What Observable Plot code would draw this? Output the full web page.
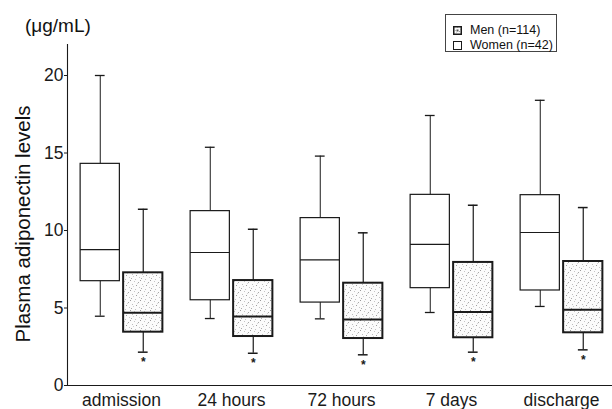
<!DOCTYPE html>
<html><head><meta charset="utf-8">
<script src="https://cdn.jsdelivr.net/npm/d3@7"></script>
<script src="https://cdn.jsdelivr.net/npm/@observablehq/plot@0.6"></script>
<style>
html,body{margin:0;padding:0;background:#fff;overflow:hidden;width:612px;height:409px;}
#wrap{position:relative;width:612px;height:409px;overflow:hidden;font-family:"Liberation Sans",Arial,sans-serif;color:#111;}
#wrap svg.plot{position:absolute;left:0;top:0;max-width:none !important;width:640px;height:409px;}
#units{position:absolute;left:25px;top:15px;font-size:19px;line-height:22px;}
#ylab{position:absolute;left:23px;top:224px;font-size:20.5px;line-height:22px;white-space:nowrap;transform:translate(-50%,-50%) rotate(-90deg);}
#legend{position:absolute;left:445px;top:14px;width:112px;height:38px;border:1px solid #444;font-size:12.5px;box-sizing:border-box;padding:8px 0 0 7px;line-height:15px;background:#fff;}
#legend .row{display:flex;align-items:center;white-space:nowrap;}
#legend svg{margin-right:8px;}
</style>
</head><body>
<div id="wrap">
  <div id="units">(μg/mL)</div>
  <div id="ylab">Plasma adiponectin levels</div>
</div>
<script>
// ---- data ----
const categories = ["admission", "24 hours", "72 hours", "7 days", "discharge"];
const seriesNames = ["Men (n=114)", "Women (n=42)"];

// white boxes (first in each pair)
const womenLow    = [4.47, 4.32, 4.30, 4.71, 5.10];
const womenQ1     = [6.73, 5.50, 5.35, 6.28, 6.13];
const womenMedian = [8.77, 8.58, 8.10, 9.10, 9.87];
const womenQ3     = [14.3, 11.25, 10.8, 12.3, 12.28];
const womenHigh   = [20.0, 15.37, 14.8, 17.42, 18.4];

// stippled boxes (second in each pair)
const menLow    = [2.15, 2.08, 1.98, 2.15, 2.30];
const menQ1     = [3.44, 3.16, 3.03, 3.08, 3.40];
const menMedian = [4.69, 4.45, 4.26, 4.75, 4.88];
const menQ3     = [7.27, 6.77, 6.60, 7.94, 8.00];
const menHigh   = [11.37, 10.08, 9.85, 11.63, 11.48];
const menMark   = ["*", "*", "*", "*", "*"];

const yTicks = [0, 5, 10, 15, 20];

// ---- build tables ----
const women = categories.map((c, i) => ({cat: c, low: womenLow[i], q1: womenQ1[i], med: womenMedian[i], q3: womenQ3[i], high: womenHigh[i]}));
const men = categories.map((c, i) => ({cat: c, low: menLow[i], q1: menQ1[i], med: menMedian[i], q3: menQ3[i], high: menHigh[i], mark: menMark[i]}));

const W = 640, H = 409;
const mL = 67, mR = 21, mT = 44, mB = 24;
const step = 110.25;
const bandStart = 65.5;
const half = step / 2;
const wOff = -21.25, mOff = 21.75; // box centre offsets within a group
const boxHalf = 19.75, capHalf = 5;

const ink = "#1a1a1a";

const chart = Plot.plot({
  width: W, height: H,
  marginLeft: mL, marginRight: mR, marginTop: mT, marginBottom: mB,
  style: {fontFamily: '"Liberation Sans", Arial, sans-serif', fontSize: "17.5px", color: ink, background: "transparent", maxWidth: "none"},
  x: {type: "band", domain: categories, paddingInner: 0, paddingOuter: 0, range: [bandStart, bandStart + step * categories.length]},
  y: {domain: [0, 22]},
  marks: [
    Plot.frame({anchor: "left", stroke: ink, strokeWidth: 1.1}),
    Plot.frame({anchor: "bottom", stroke: ink, strokeWidth: 1.1}),
    Plot.axisY({ticks: yTicks, tickSize: 3, tickPadding: 1, tickFormat: d => d, label: null}),
    Plot.axisX({tickSize: 0, tickPadding: 8, label: null}),
    // whiskers
    Plot.ruleX(women, {x: "cat", y1: "low", y2: "high", dx: wOff, stroke: ink, strokeWidth: 1}),
    Plot.ruleX(men, {x: "cat", y1: "low", y2: "high", dx: mOff, stroke: ink, strokeWidth: 1.2}),
    // caps
    Plot.tickY(women, {x: "cat", y: "high", insetLeft: half + wOff - capHalf, insetRight: half - wOff - capHalf, stroke: ink, strokeWidth: 1.3}),
    Plot.tickY(women, {x: "cat", y: "low", insetLeft: half + wOff - capHalf, insetRight: half - wOff - capHalf, stroke: ink, strokeWidth: 1.3}),
    Plot.tickY(men, {x: "cat", y: "high", insetLeft: half + mOff - capHalf, insetRight: half - mOff - capHalf, stroke: ink, strokeWidth: 1.5}),
    Plot.tickY(men, {x: "cat", y: "low", insetLeft: half + mOff - capHalf, insetRight: half - mOff - capHalf, stroke: ink, strokeWidth: 1.5}),
    // boxes
    Plot.barY(women, {x: "cat", y1: "q1", y2: "q3", insetLeft: half + wOff - boxHalf, insetRight: half - wOff - boxHalf, fill: "white", stroke: ink, strokeWidth: 1.2}),
    Plot.barY(men, {x: "cat", y1: "q1", y2: "q3", insetLeft: half + mOff - boxHalf, insetRight: half - mOff - boxHalf, fill: "url(#stipple)", stroke: ink, strokeWidth: 2}),
    // medians
    Plot.tickY(women, {x: "cat", y: "med", insetLeft: half + wOff - boxHalf, insetRight: half - wOff - boxHalf, stroke: ink, strokeWidth: 1.2}),
    Plot.tickY(men, {x: "cat", y: "med", insetLeft: half + mOff - boxHalf, insetRight: half - mOff - boxHalf, stroke: ink, strokeWidth: 2}),
    // significance marks
    Plot.text(men, {x: "cat", y: "low", text: "mark", dx: mOff, dy: 10, fontSize: 12, fontWeight: "bold", fill: ink})
  ]
});
chart.classList.add("plot");

// stipple pattern (style only)
const stippleDots = [[0,0,"#9a9a9a"],[4,1,"#c4c4c4"],[8,2,"#a8a8a8"],[2,4,"#bdbdbd"],[6,5,"#9e9e9e"],[9,7,"#c8c8c8"],[1,8,"#aaaaaa"],[5,9,"#c0c0c0"],[3,6,"#d0d0d0"],[7,3,"#d4d4d4"]];
function addPattern(svgNode, id) {
  const s = d3.select(svgNode);
  const defs = s.insert("defs", ":first-child");
  const p = defs.append("pattern").attr("id", id).attr("patternUnits", "userSpaceOnUse").attr("width", 10).attr("height", 10);
  p.append("rect").attr("width", 10).attr("height", 10).attr("fill", "#fbfbfb");
  stippleDots.forEach(([x, y, c]) => p.append("rect").attr("x", x).attr("y", y).attr("width", 1).attr("height", 1).attr("fill", c));
}
addPattern(chart, "stipple");

const wrap = document.getElementById("wrap");
wrap.insertBefore(chart, wrap.firstChild);

// legend
const legend = document.createElement("div");
legend.id = "legend";
seriesNames.forEach((name, i) => {
  const row = document.createElement("div");
  row.className = "row";
  const sw = d3.create("svg").attr("width", 9).attr("height", 9);
  if (i === 0) {
    addPattern(sw.node(), "stippleLeg");
    sw.append("rect").attr("x", 0.75).attr("y", 0.75).attr("width", 7.5).attr("height", 7.5).attr("fill", "url(#stippleLeg)").attr("stroke", ink).attr("stroke-width", 1.5);
    sw.append("rect").attr("x", 3.5).attr("y", 3.5).attr("width", 2).attr("height", 2).attr("fill", "#555");
  } else {
    sw.append("rect").attr("x", 0.5).attr("y", 0.5).attr("width", 8).attr("height", 8).attr("fill", "#fff").attr("stroke", ink).attr("stroke-width", 1);
  }
  row.appendChild(sw.node());
  const t = document.createElement("span");
  t.textContent = name;
  row.appendChild(t);
  legend.appendChild(row);
});
wrap.appendChild(legend);
</script>
</body></html>
